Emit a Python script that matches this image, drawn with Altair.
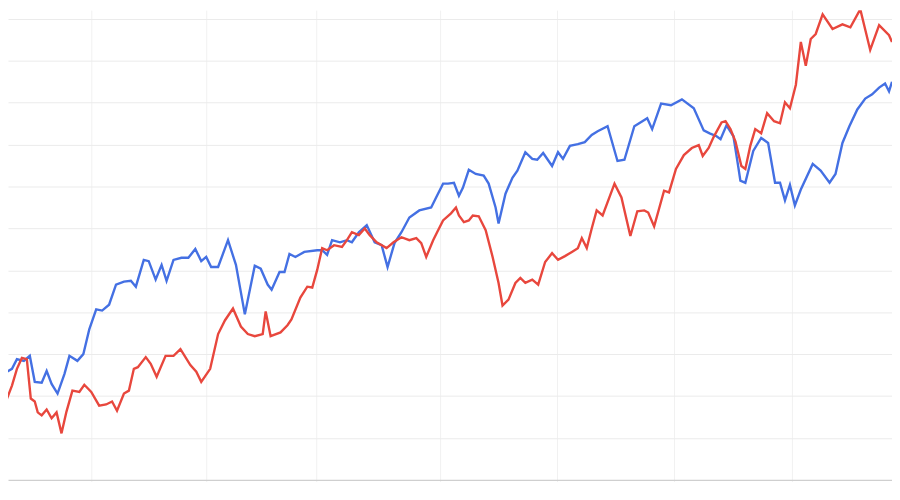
import altair as alt
import pandas as pd

# Series A (blue): time index and value (grid units of 10)
blue_t = [0, 7, 12, 17, 24, 30, 35, 42, 47, 52, 58, 65, 70, 78, 84, 90, 97, 103, 110, 117,
          125, 132, 137, 145, 150, 157, 163, 168, 175, 183, 190, 197, 203, 208, 213, 220, 230, 238, 247, 257,
          263, 270, 274, 282, 287, 292, 298, 307, 320, 325, 330, 335, 343, 350, 355, 362, 370, 378, 385, 391,
          398, 405, 413, 423, 435, 440, 447, 452, 458, 463, 467, 473, 480, 488, 493, 500, 503, 510, 517, 522,
          530, 537, 542, 548, 557, 563, 568, 575, 583, 590, 597, 603, 613, 623, 630, 640, 653, 658, 667, 677,
          688, 700, 710, 716, 723, 727, 733, 740, 745, 747, 752, 760, 768, 775, 782, 787, 792, 797, 802, 808,
          820, 828, 837, 843, 850, 857, 865, 873, 880, 887, 893, 897, 900]
blue_v = [20.1, 25.8, 26.5, 28.8, 28.4, 29.6, 23.4, 23.2, 26.0, 22.9, 20.6, 25.3, 29.6, 28.4, 30.0, 35.9, 40.7, 40.4, 41.8, 46.6,
          47.3, 47.5, 46.1, 52.5, 52.2, 47.8, 51.3, 47.5, 52.5, 53.0, 53.0, 55.1, 52.2, 53.2, 50.8, 50.8, 57.2, 51.3, 39.5, 51.1,
          50.4, 46.6, 45.4, 49.6, 49.6, 53.9, 53.2, 54.4, 54.8, 54.8, 53.7, 57.2, 56.7, 57.2, 56.7, 59.1, 60.8, 56.7, 56.0, 50.8,
          56.5, 59.1, 62.6, 64.3, 65.0, 67.4, 70.7, 70.7, 70.9, 67.8, 69.7, 74.0, 73.0, 72.6, 70.7, 65.0, 61.2, 68.3, 72.1, 73.8,
          78.2, 76.6, 76.4, 78.0, 74.9, 78.2, 76.6, 79.7, 80.1, 80.6, 82.3, 83.2, 84.4, 76.1, 76.4, 84.4, 86.3, 83.7, 89.8, 89.4,
          90.8, 88.7, 83.4, 82.7, 82.0, 81.3, 84.6, 82.0, 74.5, 71.4, 70.9, 78.5, 81.6, 80.4, 70.9, 70.9, 66.7, 70.4, 65.5, 69.3,
          75.4, 73.8, 70.9, 73.0, 80.4, 84.4, 88.4, 91.0, 92.0, 93.6, 94.6, 92.7, 95.0]

# Series B (red)
red_t = [0, 7, 12, 17, 22, 27, 31, 35, 38, 42, 47, 52, 57, 62, 67, 73, 80, 85, 92, 100,
         107, 113, 118, 125, 130, 135, 139, 147, 152, 158, 167, 175, 182, 192, 198, 203, 212, 220, 227, 235,
         243, 250, 257, 265, 268, 273, 283, 290, 294, 303, 310, 315, 320, 325, 330, 337, 345, 350, 355, 362,
         368, 373, 380, 390, 397, 405, 413, 420, 425, 430, 437, 441, 447, 455, 460, 463, 468, 473, 477, 483,
         490, 497, 503, 507, 513, 520, 525, 530, 537, 543, 550, 557, 563, 570, 577, 583, 587, 592, 597, 602,
         608, 620, 627, 636, 643, 650, 654, 660, 670, 675, 682, 690, 698, 705, 709, 715, 720, 728, 732, 737,
         742, 748, 752, 757, 762, 768, 774, 781, 787, 792, 797, 803, 808, 813, 818, 823, 830, 840, 850, 858,
         868, 878, 887, 897, 900]
red_v = [13.9, 19.4, 22.5, 26.5, 29.1, 28.8, 19.4, 18.7, 16.1, 15.4, 16.8, 14.7, 16.1, 11.1, 16.3, 21.3, 21.0, 22.7, 21.0, 17.7,
         18.0, 18.7, 16.5, 20.6, 21.3, 26.5, 26.9, 29.3, 27.7, 24.6, 29.6, 29.6, 31.2, 27.4, 25.8, 23.4, 26.5, 34.8, 38.1, 40.9,
         36.6, 34.8, 34.3, 34.8, 40.2, 34.3, 35.2, 36.9, 38.3, 43.5, 46.1, 45.9, 50.1, 55.3, 54.8, 56.0, 55.6, 57.2, 59.1, 58.4,
         60.0, 58.4, 56.7, 55.3, 56.7, 57.9, 57.2, 57.7, 56.5, 53.2, 57.2, 59.1, 61.9, 63.6, 65.0, 63.1, 61.5, 61.9, 63.1, 62.9,
         59.6, 53.2, 47.0, 41.6, 43.0, 47.0, 48.2, 47.0, 47.8, 46.6, 52.0, 54.1, 52.5, 53.4, 54.4, 55.3, 57.7, 55.3, 60.0, 64.3,
         63.1, 70.7, 67.4, 58.2, 64.1, 64.3, 63.8, 60.5, 69.0, 68.6, 74.2, 77.5, 79.2, 79.9, 77.3, 79.2, 81.8, 85.3, 85.6, 83.7,
         80.8, 74.9, 74.2, 79.7, 83.7, 82.7, 87.5, 85.6, 85.1, 90.1, 88.7, 94.3, 104.5, 98.8, 105.2, 106.4, 111.1, 107.6, 108.7, 108.0,
         112.3, 102.6, 108.5, 106.1, 104.5]

x_grid = [92, 208, 319, 444, 562, 680, 799]
y_grid = [10, 20, 30, 40, 50, 60, 70, 80, 90, 100, 110]

blue_df = pd.DataFrame({"t": blue_t, "v": blue_v})
red_df = pd.DataFrame({"t": red_t, "v": red_v})

x_enc = alt.X(
    "t:Q",
    scale=alt.Scale(domain=[8, 900], nice=False, zero=False),
    axis=alt.Axis(
        values=x_grid, labels=False, title=None, grid=True, gridColor="#f1f1f1",
        gridWidth=1, ticks=True, tickSize=18, tickColor="#f1f1f1",
        domain=True, domainColor="#cfcfcf", domainWidth=1.5,
    ),
)
y_enc = alt.Y(
    "v:Q",
    scale=alt.Scale(domain=[0, 112.1], nice=False, zero=False),
    axis=alt.Axis(
        values=y_grid, labels=False, title=None, grid=True, gridColor="#ebebeb",
        gridWidth=1, ticks=False, domain=False,
    ),
)

blue = alt.Chart(blue_df).mark_line(color="#4470e3", strokeWidth=2.4, clip=True).encode(x=x_enc, y=y_enc)
red = alt.Chart(red_df).mark_line(color="#e8473d", strokeWidth=2.4, clip=True).encode(x=x_enc, y=y_enc)

chart = (
    alt.layer(blue, red)
    .properties(width=892, height=474, autosize=alt.AutoSizeParams(type="none"), padding=0,
                background="white")
    .configure_view(strokeWidth=0, stroke=None)
)

chart.save("out.html", embed_options={"renderer": "svg", "actions": False})
